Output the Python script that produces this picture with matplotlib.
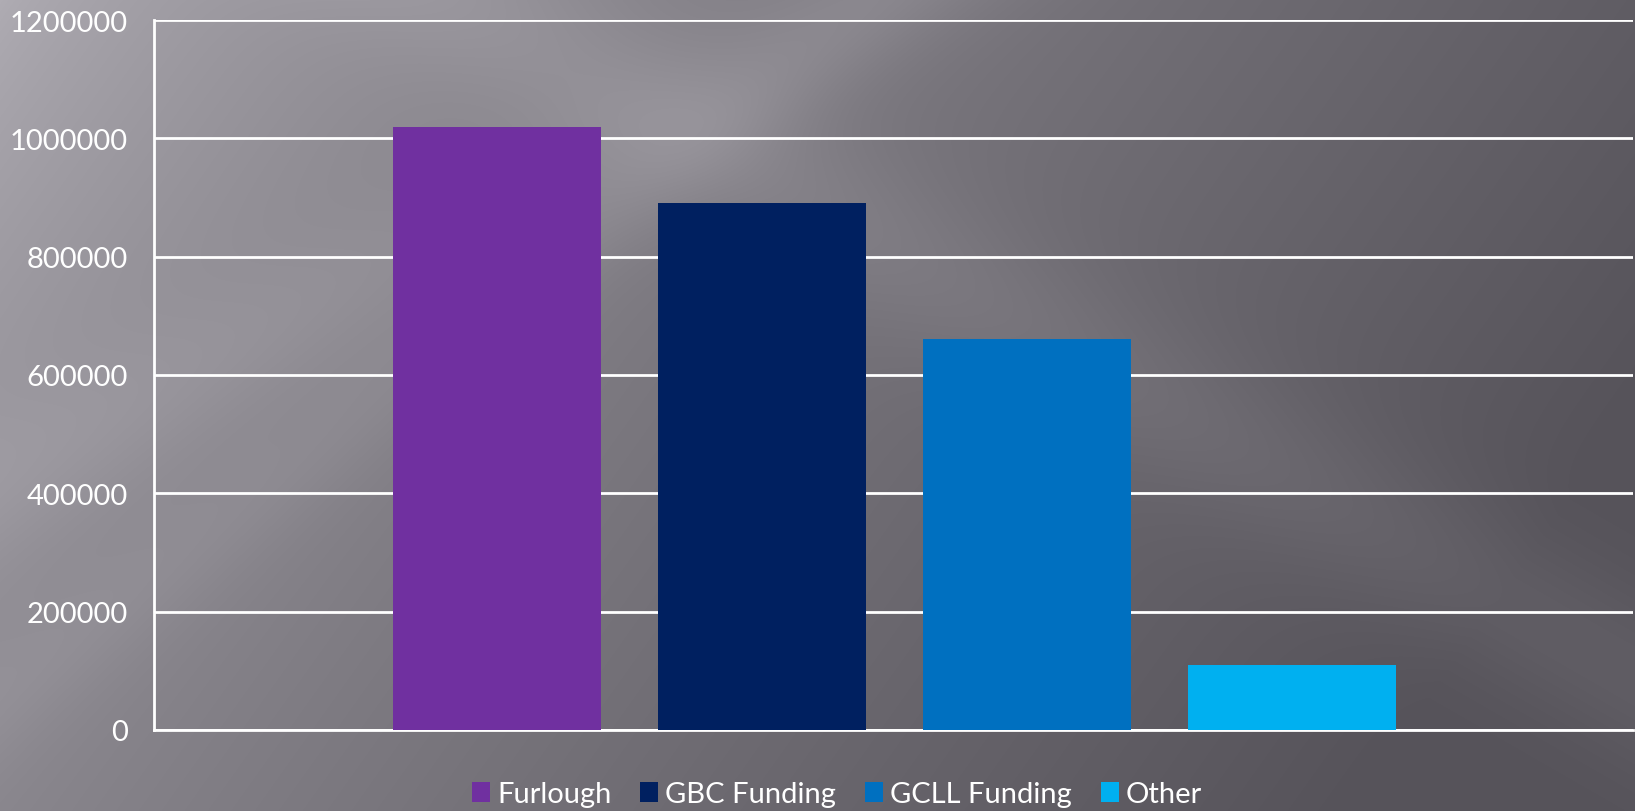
import numpy as np
import matplotlib
matplotlib.use("Agg")
import matplotlib.pyplot as plt
from matplotlib.patches import Patch

# ---- data ----
series = ["Furlough", "GBC Funding", "GCLL Funding", "Other"]
values = [1020000, 890000, 661000, 110000]
colors = ["#7030a0", "#002060", "#0070c0", "#00b0f0"]
yticks = [0, 200000, 400000, 600000, 800000, 1000000, 1200000]

W, H = 1635, 812
fig = plt.figure(figsize=(W / 100, H / 100), dpi=100)

# ---- background gradient (style) ----
bg = fig.add_axes([0, 0, 1, 1], zorder=-10)
yy, xx = np.mgrid[0:H, 0:W]
u = xx / W
v = yy / H
t = np.clip(0.85 * u + 0.30 * v, 0, 1)
L = 176 - 90 * t ** 0.7
# soft diagonal light bands
d1 = ((xx - 560) * 0.50 - (yy - 60) * 0.87) / 80.0
L += 10 * np.exp(-d1 ** 2)
d2 = ((xx - 640) * 0.48 + (yy - 130) * 0.88) / 70.0
L += 8 * np.exp(-d2 ** 2)
d3 = ((xx - 250) * 0.62 + (yy - 500) * 0.78) / 50.0
L += 6 * np.exp(-d3 ** 2)
img = np.dstack([L, L - 3, L + 4]) / 255.0
bg.imshow(np.clip(img, 0, 1), aspect="auto", extent=[0, 1, 0, 1], origin="upper")
bg.axis("off")

# ---- main axes ----
ax = fig.add_axes([154 / W, 1 - 731 / H, (1633 - 154) / W, 710 / H])
ax.set_facecolor("none")

x = np.arange(len(series))
ax.bar(x, values, width=0.787, color=colors, zorder=3)

ax.set_xlim(-1.294, 4.287)
ax.set_ylim(0, 1200000)
ax.set_yticks(yticks)
ax.set_yticklabels([str(v) for v in yticks])
ax.set_xticks([])
ax.yaxis.grid(True, color="white", linewidth=2, zorder=0)
ax.set_axisbelow(True)
for s in ["top", "right"]:
    ax.spines[s].set_visible(False)
for s in ["left", "bottom"]:
    ax.spines[s].set_color("white")
    ax.spines[s].set_linewidth(2)
ax.tick_params(axis="y", length=0, pad=19, labelcolor="white", labelsize=21)
for lab in ax.get_yticklabels():
    lab.set_fontfamily("Lato")

handles = [Patch(facecolor=c, edgecolor="none", label=s) for s, c in zip(series, colors)]
leg = fig.legend(handles=handles, loc="center", bbox_to_anchor=(0.512, 1 - 795 / H),
                 ncol=4, frameon=False, handlelength=0.6, handleheight=0.7,
                 handletextpad=0.25, columnspacing=1.0,
                 prop={"family": "Lato", "size": 21})
for txt in leg.get_texts():
    txt.set_color("white")

fig.savefig("out.png", dpi=100)
